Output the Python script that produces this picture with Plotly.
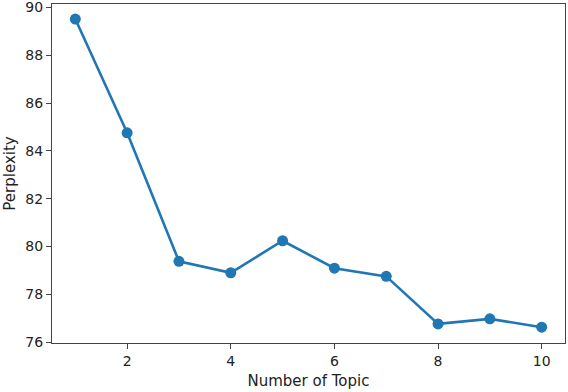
import plotly.graph_objects as go

topics = [1, 2, 3, 4, 5, 6, 7, 8, 9, 10]
perplexity = [89.52, 84.76, 79.38, 78.9, 80.24, 79.09, 78.75, 76.76, 76.97, 76.62]
x_ticks = [2, 4, 6, 8, 10]
y_ticks = [76, 78, 80, 82, 84, 86, 88, 90]

fig = go.Figure(go.Scatter(
    x=topics, y=perplexity, mode="lines+markers",
    line=dict(color="#1f77b4", width=2.6),
    marker=dict(color="#1f77b4", size=11),
    cliponaxis=False,
))

axis_common = dict(
    showgrid=False, zeroline=False, showline=True, mirror=True,
    linecolor="#444", linewidth=1.2, ticks="outside", ticklen=5,
    tickcolor="#444", tickwidth=1.2, ticklabeloverflow="allow",
    automargin=False,
    tickfont=dict(family="DejaVu Sans", size=14, color="#222"),
    title_font=dict(family="DejaVu Sans", size=15, color="#222"),
)

fig.update_layout(
    width=568, height=392,
    margin=dict(l=52, r=3, t=4, b=49),
    paper_bgcolor="white", plot_bgcolor="white",
    showlegend=False,
    xaxis=dict(range=[0.55, 10.45], tickvals=x_ticks, title=dict(text="Number of Topic", standoff=7), **axis_common),
    yaxis=dict(range=[75.96, 90.15], tickvals=y_ticks, title=dict(text="Perplexity", standoff=6), **axis_common),
)

fig.write_html("out.html")
